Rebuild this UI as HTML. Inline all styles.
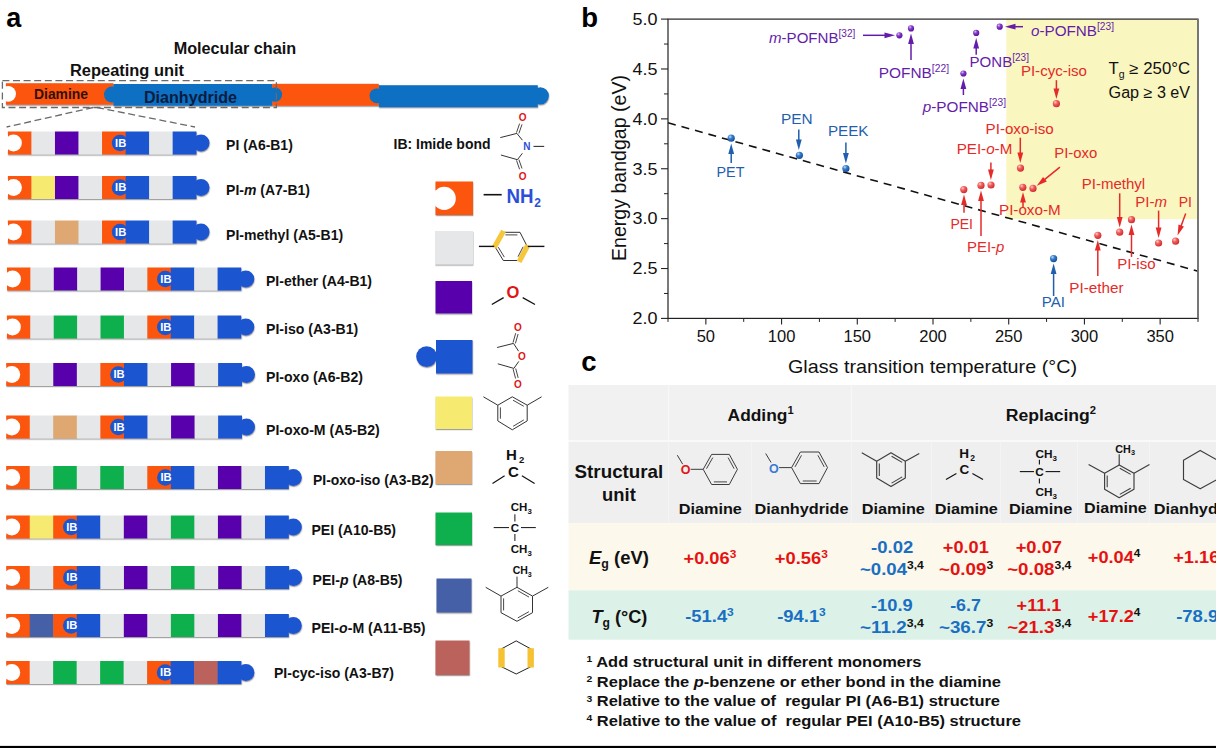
<!DOCTYPE html>
<html lang="en"><head><meta charset="utf-8"><title>Polyimide structural units figure</title>
<style>
html,body{margin:0;padding:0;background:#fff;}
body{width:1216px;height:748px;overflow:hidden;font-family:"Liberation Sans",sans-serif;}
svg{display:block;}
svg text{font-family:"Liberation Sans",sans-serif;}
</style></head><body>
<svg width="1216" height="748" viewBox="0 0 1216 748">
<defs>
<filter id="sh" x="-5%" y="-20%" width="110%" height="150%"><feDropShadow dx="0.4" dy="1.2" stdDeviation="0.7" flood-color="#555" flood-opacity="0.55"/></filter>
<radialGradient id="gr" cx="35%" cy="30%" r="70%"><stop offset="0" stop-color="#ffd0c8"/><stop offset="0.4" stop-color="#f06262"/><stop offset="1" stop-color="#d42a2a"/></radialGradient>
<radialGradient id="gb" cx="35%" cy="30%" r="70%"><stop offset="0" stop-color="#c4dcf6"/><stop offset="0.4" stop-color="#3a80cc"/><stop offset="1" stop-color="#0f50a0"/></radialGradient>
<radialGradient id="gp" cx="35%" cy="30%" r="70%"><stop offset="0" stop-color="#dcc4f6"/><stop offset="0.4" stop-color="#8840c8"/><stop offset="1" stop-color="#5a0fa0"/></radialGradient>
</defs>
<rect x="0" y="0" width="1216" height="748" fill="#fff"/>

<text x="6.3" y="26.8" font-size="27" font-weight="bold" fill="#000" text-anchor="start" font-style="normal" >a</text>
<text x="581.3" y="27" font-size="27.5" font-weight="bold" fill="#000" text-anchor="start" font-style="normal" >b</text>
<text x="581.3" y="371" font-size="27.5" font-weight="bold" fill="#000" text-anchor="start" font-style="normal" >c</text>
<text x="173.7" y="54.4" font-size="16" font-weight="bold" fill="#111" text-anchor="start" font-style="normal"  textLength="122.5" lengthAdjust="spacingAndGlyphs">Molecular chain</text>
<text x="70" y="76" font-size="16" font-weight="bold" fill="#111" text-anchor="start" font-style="normal"  textLength="114.0" lengthAdjust="spacingAndGlyphs">Repeating unit</text>
<g filter="url(#sh)">
<rect x="5.90" y="83.20" width="107.50" height="21.50" fill="#FC5509" />
<rect x="272.20" y="83.80" width="106.60" height="22.00" fill="#FC5509" />
<rect x="113.40" y="84.00" width="158.80" height="21.80" fill="#0B70C2" />
<circle cx="112.00" cy="94.60" r="8.00" fill="#0B70C2" />
<circle cx="274.90" cy="94.60" r="7.20" fill="#0B70C2" />
<rect x="378.80" y="85.20" width="159.00" height="22.00" fill="#0B70C2" />
<circle cx="376.90" cy="95.80" r="7.40" fill="#0B70C2" />
<circle cx="540.30" cy="95.80" r="8.60" fill="#0B70C2" />
</g>
<circle cx="8.10" cy="93.80" r="7.90" fill="#fff" />
<rect x="0.00" y="88.00" width="5.90" height="11.60" fill="#fff" />
<text x="34" y="99.4" font-size="14" font-weight="bold" fill="#33110a" text-anchor="start" font-style="normal"  textLength="54.0" lengthAdjust="spacingAndGlyphs">Diamine</text>
<text x="144" y="103" font-size="16" font-weight="bold" fill="#0a1c40" text-anchor="start" font-style="normal"  textLength="93.0" lengthAdjust="spacingAndGlyphs">Dianhydride</text>
<rect x="2.4" y="80.6" width="274" height="26.9" fill="none" stroke="#6a6a6a" stroke-width="1.3" stroke-dasharray="7,3.6"/>
<line x1="93.00" y1="107.50" x2="6.60" y2="127.00" stroke="#6a6a6a" stroke-width="1.3" stroke-dasharray="7,3.6"/>
<line x1="97.00" y1="107.50" x2="195.00" y2="127.00" stroke="#6a6a6a" stroke-width="1.3" stroke-dasharray="7,3.6"/>
<g filter="url(#sh)">
<rect x="7.90" y="131.50" width="23.84" height="23.00" fill="#FC5509" />
<rect x="31.44" y="131.50" width="23.84" height="23.00" fill="#E5E7E9" />
<rect x="54.97" y="131.50" width="23.84" height="23.00" fill="#5805AC" />
<rect x="78.51" y="131.50" width="23.84" height="23.00" fill="#E5E7E9" />
<rect x="102.05" y="131.50" width="23.84" height="23.00" fill="#FC5509" />
<rect x="125.59" y="131.50" width="23.84" height="23.00" fill="#1B55D0" />
<rect x="149.12" y="131.50" width="23.84" height="23.00" fill="#E5E7E9" />
<rect x="172.66" y="131.50" width="23.84" height="23.00" fill="#1B55D0" />
<circle cx="201.00" cy="143.00" r="8.50" fill="#1B55D0" />
</g>
<circle cx="13.50" cy="143.00" r="8.40" fill="#fff" />
<rect x="-2.10" y="134.70" width="10.00" height="16.60" fill="#fff" />
<circle cx="119.99" cy="143.00" r="8.20" fill="#1B55D0" />
<text x="115.08749999999998" y="146.7" font-size="10.4" font-weight="bold" fill="#fff" text-anchor="start" font-style="normal"  textLength="11.2" lengthAdjust="spacingAndGlyphs">IB</text>
<text x="226.1" y="150.1" font-size="14" font-weight="bold" fill="#111" text-anchor="start" font-style="normal"  textLength="66.7" lengthAdjust="spacingAndGlyphs">PI (A6-B1)</text>
<g filter="url(#sh)">
<rect x="7.90" y="176.00" width="23.84" height="23.00" fill="#FC5509" />
<rect x="31.44" y="176.00" width="23.84" height="23.00" fill="#F7EA70" />
<rect x="54.97" y="176.00" width="23.84" height="23.00" fill="#5805AC" />
<rect x="78.51" y="176.00" width="23.84" height="23.00" fill="#E5E7E9" />
<rect x="102.05" y="176.00" width="23.84" height="23.00" fill="#FC5509" />
<rect x="125.59" y="176.00" width="23.84" height="23.00" fill="#1B55D0" />
<rect x="149.12" y="176.00" width="23.84" height="23.00" fill="#E5E7E9" />
<rect x="172.66" y="176.00" width="23.84" height="23.00" fill="#1B55D0" />
<circle cx="201.00" cy="187.50" r="8.50" fill="#1B55D0" />
</g>
<circle cx="13.50" cy="187.50" r="8.40" fill="#fff" />
<rect x="-2.10" y="179.20" width="10.00" height="16.60" fill="#fff" />
<circle cx="119.99" cy="187.50" r="8.20" fill="#1B55D0" />
<text x="115.08749999999998" y="191.2" font-size="10.4" font-weight="bold" fill="#fff" text-anchor="start" font-style="normal"  textLength="11.2" lengthAdjust="spacingAndGlyphs">IB</text>
<text x="226.1" y="195.3" font-size="14" font-weight="bold" fill="#111" text-anchor="start" font-style="normal"  textLength="83.9" lengthAdjust="spacingAndGlyphs">PI-<tspan font-style="italic">m</tspan> (A7-B1)</text>
<g filter="url(#sh)">
<rect x="7.90" y="220.50" width="23.84" height="23.00" fill="#FC5509" />
<rect x="31.44" y="220.50" width="23.84" height="23.00" fill="#E5E7E9" />
<rect x="54.97" y="220.50" width="23.84" height="23.00" fill="#DFA872" />
<rect x="78.51" y="220.50" width="23.84" height="23.00" fill="#E5E7E9" />
<rect x="102.05" y="220.50" width="23.84" height="23.00" fill="#FC5509" />
<rect x="125.59" y="220.50" width="23.84" height="23.00" fill="#1B55D0" />
<rect x="149.12" y="220.50" width="23.84" height="23.00" fill="#E5E7E9" />
<rect x="172.66" y="220.50" width="23.84" height="23.00" fill="#1B55D0" />
<circle cx="201.00" cy="232.00" r="8.50" fill="#1B55D0" />
</g>
<circle cx="13.50" cy="232.00" r="8.40" fill="#fff" />
<rect x="-2.10" y="223.70" width="10.00" height="16.60" fill="#fff" />
<circle cx="119.99" cy="232.00" r="8.20" fill="#1B55D0" />
<text x="115.08749999999998" y="235.7" font-size="10.4" font-weight="bold" fill="#fff" text-anchor="start" font-style="normal"  textLength="11.2" lengthAdjust="spacingAndGlyphs">IB</text>
<text x="226.1" y="240" font-size="14" font-weight="bold" fill="#111" text-anchor="start" font-style="normal"  textLength="117.1" lengthAdjust="spacingAndGlyphs">PI-methyl (A5-B1)</text>
<g filter="url(#sh)">
<rect x="7.00" y="267.50" width="23.70" height="23.00" fill="#FC5509" />
<rect x="30.40" y="267.50" width="23.70" height="23.00" fill="#E5E7E9" />
<rect x="53.80" y="267.50" width="23.70" height="23.00" fill="#5805AC" />
<rect x="77.20" y="267.50" width="23.70" height="23.00" fill="#E5E7E9" />
<rect x="100.60" y="267.50" width="23.70" height="23.00" fill="#5805AC" />
<rect x="124.00" y="267.50" width="23.70" height="23.00" fill="#E5E7E9" />
<rect x="147.40" y="267.50" width="23.70" height="23.00" fill="#FC5509" />
<rect x="170.80" y="267.50" width="23.70" height="23.00" fill="#1B55D0" />
<rect x="194.20" y="267.50" width="23.70" height="23.00" fill="#E5E7E9" />
<rect x="217.60" y="267.50" width="23.70" height="23.00" fill="#1B55D0" />
<circle cx="245.80" cy="279.00" r="8.50" fill="#1B55D0" />
</g>
<circle cx="12.60" cy="279.00" r="8.40" fill="#fff" />
<rect x="-3.00" y="270.70" width="10.00" height="16.60" fill="#fff" />
<circle cx="165.20" cy="279.00" r="8.20" fill="#1B55D0" />
<text x="160.3" y="282.7" font-size="10.4" font-weight="bold" fill="#fff" text-anchor="start" font-style="normal"  textLength="11.2" lengthAdjust="spacingAndGlyphs">IB</text>
<text x="266" y="286" font-size="14" font-weight="bold" fill="#111" text-anchor="start" font-style="normal"  textLength="106.0" lengthAdjust="spacingAndGlyphs">PI-ether (A4-B1)</text>
<g filter="url(#sh)">
<rect x="6.90" y="315.50" width="23.71" height="23.00" fill="#FC5509" />
<rect x="30.31" y="315.50" width="23.71" height="23.00" fill="#E5E7E9" />
<rect x="53.72" y="315.50" width="23.71" height="23.00" fill="#10B04D" />
<rect x="77.13" y="315.50" width="23.71" height="23.00" fill="#E5E7E9" />
<rect x="100.54" y="315.50" width="23.71" height="23.00" fill="#10B04D" />
<rect x="123.95" y="315.50" width="23.71" height="23.00" fill="#E5E7E9" />
<rect x="147.36" y="315.50" width="23.71" height="23.00" fill="#FC5509" />
<rect x="170.77" y="315.50" width="23.71" height="23.00" fill="#1B55D0" />
<rect x="194.18" y="315.50" width="23.71" height="23.00" fill="#E5E7E9" />
<rect x="217.59" y="315.50" width="23.71" height="23.00" fill="#1B55D0" />
<circle cx="245.80" cy="327.00" r="8.50" fill="#1B55D0" />
</g>
<circle cx="12.50" cy="327.00" r="8.40" fill="#fff" />
<rect x="-3.10" y="318.70" width="10.00" height="16.60" fill="#fff" />
<circle cx="165.17" cy="327.00" r="8.20" fill="#1B55D0" />
<text x="160.26999999999998" y="330.7" font-size="10.4" font-weight="bold" fill="#fff" text-anchor="start" font-style="normal"  textLength="11.2" lengthAdjust="spacingAndGlyphs">IB</text>
<text x="266" y="334.2" font-size="14" font-weight="bold" fill="#111" text-anchor="start" font-style="normal"  textLength="92.3" lengthAdjust="spacingAndGlyphs">PI-iso (A3-B1)</text>
<g filter="url(#sh)">
<rect x="6.20" y="363.00" width="23.85" height="23.00" fill="#FC5509" />
<rect x="29.75" y="363.00" width="23.85" height="23.00" fill="#E5E7E9" />
<rect x="53.30" y="363.00" width="23.85" height="23.00" fill="#5805AC" />
<rect x="76.85" y="363.00" width="23.85" height="23.00" fill="#E5E7E9" />
<rect x="100.40" y="363.00" width="23.85" height="23.00" fill="#FC5509" />
<rect x="123.95" y="363.00" width="23.85" height="23.00" fill="#1B55D0" />
<rect x="147.50" y="363.00" width="23.85" height="23.00" fill="#E5E7E9" />
<rect x="171.05" y="363.00" width="23.85" height="23.00" fill="#5805AC" />
<rect x="194.60" y="363.00" width="23.85" height="23.00" fill="#E5E7E9" />
<rect x="218.15" y="363.00" width="23.85" height="23.00" fill="#1B55D0" />
<circle cx="246.50" cy="374.50" r="8.50" fill="#1B55D0" />
</g>
<circle cx="11.80" cy="374.50" r="8.40" fill="#fff" />
<rect x="-3.80" y="366.20" width="10.00" height="16.60" fill="#fff" />
<circle cx="118.35" cy="374.50" r="8.20" fill="#1B55D0" />
<text x="113.44999999999999" y="378.2" font-size="10.4" font-weight="bold" fill="#fff" text-anchor="start" font-style="normal"  textLength="11.2" lengthAdjust="spacingAndGlyphs">IB</text>
<text x="266" y="382.3" font-size="14" font-weight="bold" fill="#111" text-anchor="start" font-style="normal"  textLength="97.0" lengthAdjust="spacingAndGlyphs">PI-oxo (A6-B2)</text>
<g filter="url(#sh)">
<rect x="6.20" y="415.50" width="23.85" height="23.00" fill="#FC5509" />
<rect x="29.75" y="415.50" width="23.85" height="23.00" fill="#E5E7E9" />
<rect x="53.30" y="415.50" width="23.85" height="23.00" fill="#DFA872" />
<rect x="76.85" y="415.50" width="23.85" height="23.00" fill="#E5E7E9" />
<rect x="100.40" y="415.50" width="23.85" height="23.00" fill="#FC5509" />
<rect x="123.95" y="415.50" width="23.85" height="23.00" fill="#1B55D0" />
<rect x="147.50" y="415.50" width="23.85" height="23.00" fill="#E5E7E9" />
<rect x="171.05" y="415.50" width="23.85" height="23.00" fill="#5805AC" />
<rect x="194.60" y="415.50" width="23.85" height="23.00" fill="#E5E7E9" />
<rect x="218.15" y="415.50" width="23.85" height="23.00" fill="#1B55D0" />
<circle cx="246.50" cy="427.00" r="8.50" fill="#1B55D0" />
</g>
<circle cx="11.80" cy="427.00" r="8.40" fill="#fff" />
<rect x="-3.80" y="418.70" width="10.00" height="16.60" fill="#fff" />
<circle cx="118.35" cy="427.00" r="8.20" fill="#1B55D0" />
<text x="113.44999999999999" y="430.7" font-size="10.4" font-weight="bold" fill="#fff" text-anchor="start" font-style="normal"  textLength="11.2" lengthAdjust="spacingAndGlyphs">IB</text>
<text x="266" y="434.5" font-size="14" font-weight="bold" fill="#111" text-anchor="start" font-style="normal"  textLength="113.7" lengthAdjust="spacingAndGlyphs">PI-oxo-M (A5-B2)</text>
<g filter="url(#sh)">
<rect x="6.20" y="466.00" width="23.83" height="23.00" fill="#FC5509" />
<rect x="29.73" y="466.00" width="23.83" height="23.00" fill="#E5E7E9" />
<rect x="53.25" y="466.00" width="23.83" height="23.00" fill="#10B04D" />
<rect x="76.78" y="466.00" width="23.83" height="23.00" fill="#E5E7E9" />
<rect x="100.30" y="466.00" width="23.83" height="23.00" fill="#10B04D" />
<rect x="123.83" y="466.00" width="23.83" height="23.00" fill="#E5E7E9" />
<rect x="147.35" y="466.00" width="23.83" height="23.00" fill="#FC5509" />
<rect x="170.88" y="466.00" width="23.83" height="23.00" fill="#1B55D0" />
<rect x="194.40" y="466.00" width="23.83" height="23.00" fill="#E5E7E9" />
<rect x="217.93" y="466.00" width="23.83" height="23.00" fill="#5805AC" />
<rect x="241.45" y="466.00" width="23.83" height="23.00" fill="#E5E7E9" />
<rect x="264.98" y="466.00" width="23.83" height="23.00" fill="#1B55D0" />
<circle cx="293.30" cy="477.50" r="8.50" fill="#1B55D0" />
</g>
<circle cx="11.80" cy="477.50" r="8.40" fill="#fff" />
<rect x="-3.80" y="469.20" width="10.00" height="16.60" fill="#fff" />
<circle cx="165.28" cy="477.50" r="8.20" fill="#1B55D0" />
<text x="160.37500000000003" y="481.2" font-size="10.4" font-weight="bold" fill="#fff" text-anchor="start" font-style="normal"  textLength="11.2" lengthAdjust="spacingAndGlyphs">IB</text>
<text x="313" y="485.2" font-size="14" font-weight="bold" fill="#111" text-anchor="start" font-style="normal"  textLength="120.7" lengthAdjust="spacingAndGlyphs">PI-oxo-iso (A3-B2)</text>
<g filter="url(#sh)">
<rect x="6.20" y="515.50" width="23.83" height="23.00" fill="#FC5509" />
<rect x="29.73" y="515.50" width="23.83" height="23.00" fill="#F7EA70" />
<rect x="53.25" y="515.50" width="23.83" height="23.00" fill="#FC5509" />
<rect x="76.78" y="515.50" width="23.83" height="23.00" fill="#1B55D0" />
<rect x="100.30" y="515.50" width="23.83" height="23.00" fill="#E5E7E9" />
<rect x="123.83" y="515.50" width="23.83" height="23.00" fill="#5805AC" />
<rect x="147.35" y="515.50" width="23.83" height="23.00" fill="#E5E7E9" />
<rect x="170.88" y="515.50" width="23.83" height="23.00" fill="#10B04D" />
<rect x="194.40" y="515.50" width="23.83" height="23.00" fill="#E5E7E9" />
<rect x="217.93" y="515.50" width="23.83" height="23.00" fill="#5805AC" />
<rect x="241.45" y="515.50" width="23.83" height="23.00" fill="#E5E7E9" />
<rect x="264.98" y="515.50" width="23.83" height="23.00" fill="#1B55D0" />
<circle cx="293.30" cy="527.00" r="8.50" fill="#1B55D0" />
</g>
<circle cx="11.80" cy="527.00" r="8.40" fill="#fff" />
<rect x="-3.80" y="518.70" width="10.00" height="16.60" fill="#fff" />
<circle cx="71.18" cy="527.00" r="8.20" fill="#1B55D0" />
<text x="66.275" y="530.7" font-size="10.4" font-weight="bold" fill="#fff" text-anchor="start" font-style="normal"  textLength="11.2" lengthAdjust="spacingAndGlyphs">IB</text>
<text x="311.4" y="535" font-size="14" font-weight="bold" fill="#111" text-anchor="start" font-style="normal"  textLength="84.6" lengthAdjust="spacingAndGlyphs">PEI (A10-B5)</text>
<g filter="url(#sh)">
<rect x="6.20" y="566.00" width="23.85" height="23.00" fill="#FC5509" />
<rect x="29.75" y="566.00" width="23.85" height="23.00" fill="#E5E7E9" />
<rect x="53.30" y="566.00" width="23.85" height="23.00" fill="#FC5509" />
<rect x="76.85" y="566.00" width="23.85" height="23.00" fill="#1B55D0" />
<rect x="100.40" y="566.00" width="23.85" height="23.00" fill="#E5E7E9" />
<rect x="123.95" y="566.00" width="23.85" height="23.00" fill="#5805AC" />
<rect x="147.50" y="566.00" width="23.85" height="23.00" fill="#E5E7E9" />
<rect x="171.05" y="566.00" width="23.85" height="23.00" fill="#10B04D" />
<rect x="194.60" y="566.00" width="23.85" height="23.00" fill="#E5E7E9" />
<rect x="218.15" y="566.00" width="23.85" height="23.00" fill="#5805AC" />
<rect x="241.70" y="566.00" width="23.85" height="23.00" fill="#E5E7E9" />
<rect x="265.25" y="566.00" width="23.85" height="23.00" fill="#1B55D0" />
<circle cx="293.60" cy="577.50" r="8.50" fill="#1B55D0" />
</g>
<circle cx="11.80" cy="577.50" r="8.40" fill="#fff" />
<rect x="-3.80" y="569.20" width="10.00" height="16.60" fill="#fff" />
<circle cx="71.25" cy="577.50" r="8.20" fill="#1B55D0" />
<text x="66.35" y="581.2" font-size="10.4" font-weight="bold" fill="#fff" text-anchor="start" font-style="normal"  textLength="11.2" lengthAdjust="spacingAndGlyphs">IB</text>
<text x="312.6" y="585" font-size="14" font-weight="bold" fill="#111" text-anchor="start" font-style="normal"  textLength="89.8" lengthAdjust="spacingAndGlyphs">PEI-<tspan font-style="italic">p</tspan> (A8-B5)</text>
<g filter="url(#sh)">
<rect x="6.20" y="614.00" width="23.83" height="23.00" fill="#FC5509" />
<rect x="29.73" y="614.00" width="23.83" height="23.00" fill="#4461A6" />
<rect x="53.25" y="614.00" width="23.83" height="23.00" fill="#FC5509" />
<rect x="76.78" y="614.00" width="23.83" height="23.00" fill="#1B55D0" />
<rect x="100.30" y="614.00" width="23.83" height="23.00" fill="#E5E7E9" />
<rect x="123.83" y="614.00" width="23.83" height="23.00" fill="#5805AC" />
<rect x="147.35" y="614.00" width="23.83" height="23.00" fill="#E5E7E9" />
<rect x="170.88" y="614.00" width="23.83" height="23.00" fill="#10B04D" />
<rect x="194.40" y="614.00" width="23.83" height="23.00" fill="#E5E7E9" />
<rect x="217.93" y="614.00" width="23.83" height="23.00" fill="#5805AC" />
<rect x="241.45" y="614.00" width="23.83" height="23.00" fill="#E5E7E9" />
<rect x="264.98" y="614.00" width="23.83" height="23.00" fill="#1B55D0" />
<circle cx="293.30" cy="625.50" r="8.50" fill="#1B55D0" />
</g>
<circle cx="11.80" cy="625.50" r="8.40" fill="#fff" />
<rect x="-3.80" y="617.20" width="10.00" height="16.60" fill="#fff" />
<circle cx="71.18" cy="625.50" r="8.20" fill="#1B55D0" />
<text x="66.275" y="629.2" font-size="10.4" font-weight="bold" fill="#fff" text-anchor="start" font-style="normal"  textLength="11.2" lengthAdjust="spacingAndGlyphs">IB</text>
<text x="311.5" y="633.2" font-size="14" font-weight="bold" fill="#111" text-anchor="start" font-style="normal"  textLength="114.0" lengthAdjust="spacingAndGlyphs">PEI-<tspan font-style="italic">o</tspan>-M (A11-B5)</text>
<g filter="url(#sh)">
<rect x="6.20" y="661.00" width="23.79" height="23.00" fill="#FC5509" />
<rect x="29.69" y="661.00" width="23.79" height="23.00" fill="#E5E7E9" />
<rect x="53.18" y="661.00" width="23.79" height="23.00" fill="#10B04D" />
<rect x="76.67" y="661.00" width="23.79" height="23.00" fill="#E5E7E9" />
<rect x="100.16" y="661.00" width="23.79" height="23.00" fill="#10B04D" />
<rect x="123.65" y="661.00" width="23.79" height="23.00" fill="#E5E7E9" />
<rect x="147.14" y="661.00" width="23.79" height="23.00" fill="#FC5509" />
<rect x="170.63" y="661.00" width="23.79" height="23.00" fill="#1B55D0" />
<rect x="194.12" y="661.00" width="23.79" height="23.00" fill="#BB625B" />
<rect x="217.61" y="661.00" width="23.79" height="23.00" fill="#1B55D0" />
<circle cx="245.90" cy="672.50" r="8.50" fill="#1B55D0" />
</g>
<circle cx="11.80" cy="672.50" r="8.40" fill="#fff" />
<rect x="-3.80" y="664.20" width="10.00" height="16.60" fill="#fff" />
<circle cx="165.03" cy="672.50" r="8.20" fill="#1B55D0" />
<text x="160.13000000000005" y="676.2" font-size="10.4" font-weight="bold" fill="#fff" text-anchor="start" font-style="normal"  textLength="11.2" lengthAdjust="spacingAndGlyphs">IB</text>
<text x="274" y="678.2" font-size="14" font-weight="bold" fill="#111" text-anchor="start" font-style="normal"  textLength="120.0" lengthAdjust="spacingAndGlyphs">PI-cyc-iso (A3-B7)</text>
<g filter="url(#sh)">
<rect x="435.50" y="181.50" width="37.50" height="33.50" fill="#FC5509" />
<rect x="435.00" y="231.00" width="38.00" height="33.50" fill="#E5E7E9" />
<rect x="435.50" y="281.00" width="36.50" height="32.50" fill="#5805AC" />
<rect x="436.00" y="340.00" width="36.50" height="33.50" fill="#1B55D0" />
<circle cx="426.60" cy="356.60" r="10.40" fill="#1B55D0" />
<rect x="435.50" y="396.50" width="36.50" height="32.50" fill="#F7EA70" />
<rect x="435.50" y="451.00" width="36.50" height="33.00" fill="#DFA872" />
<rect x="435.50" y="512.50" width="36.50" height="32.50" fill="#10B04D" />
<rect x="436.50" y="578.50" width="35.00" height="34.00" fill="#4461A6" />
<rect x="435.50" y="640.50" width="34.00" height="34.50" fill="#BB625B" />
</g>
<circle cx="444.20" cy="198.40" r="11.60" fill="#fff" />
<rect x="425.00" y="190.00" width="10.40" height="16.80" fill="#fff" />
<text x="393.5" y="149" font-size="14" font-weight="bold" fill="#111" text-anchor="start" font-style="normal"  textLength="97.0" lengthAdjust="spacingAndGlyphs">IB: Imide bond</text>
<line x1="500.3" y1="137.6" x2="516.9" y2="133.4" stroke="#333" stroke-width="1.0" />
<line x1="516.9" y1="133.4" x2="522.4" y2="140.2" stroke="#333" stroke-width="1.0" />
<line x1="518.9" y1="133.4" x2="522.0" y2="124.4" stroke="#333" stroke-width="0.9" />
<line x1="516.5" y1="132.6" x2="519.6" y2="123.6" stroke="#333" stroke-width="0.9" />
<line x1="500.9" y1="155.0" x2="517.4" y2="159.7" stroke="#333" stroke-width="1.0" />
<line x1="517.4" y1="159.7" x2="522.4" y2="153.3" stroke="#333" stroke-width="1.0" />
<line x1="516.5" y1="160.4" x2="519.6" y2="169.3" stroke="#333" stroke-width="0.9" />
<line x1="518.9" y1="159.6" x2="522.0" y2="168.5" stroke="#333" stroke-width="0.9" />
<line x1="533.5" y1="146.4" x2="544.2" y2="146.4" stroke="#333" stroke-width="1.1" />
<text x="522.6" y="120.8" font-size="10" font-weight="bold" fill="#E01515" text-anchor="middle" font-style="normal">O</text>
<text x="522.6" y="179.8" font-size="10" font-weight="bold" fill="#E01515" text-anchor="middle" font-style="normal">O</text>
<text x="526.9" y="150.3" font-size="10" font-weight="bold" fill="#2E4FD6" text-anchor="middle" font-style="normal">N</text>
<line x1="483.6" y1="194.7" x2="501.7" y2="194.7" stroke="#111" stroke-width="1.6" />
<text x="506.5" y="202.7" font-size="19.5" font-weight="bold" fill="#2B4FD8" textLength="27" lengthAdjust="spacingAndGlyphs">NH</text>
<text x="537.6" y="206.5" font-size="12" font-weight="bold" fill="#2B4FD8" text-anchor="middle" font-style="normal">2</text>
<polygon points="494.8,246.4 502.9,232.3 520.0,232.3 527.2,246.4 519.8,260.5 503.3,260.5" fill="none" stroke="#333" stroke-width="1.0" stroke-linejoin="round"/>
<line x1="494.3" y1="247.6" x2="503.5" y2="230.9" stroke="#F6C63C" stroke-width="5.2" stroke-linecap="butt"/>
<line x1="527.8" y1="245.2" x2="519.1" y2="261.9" stroke="#F6C63C" stroke-width="5.2" stroke-linecap="butt"/>
<line x1="505.4" y1="234.9" x2="517.4" y2="234.9" stroke="#333" stroke-width="0.9" />
<line x1="504.3" y1="257.1" x2="498.3" y2="247.2" stroke="#333" stroke-width="0.9" />
<line x1="523.1" y1="246.8" x2="518.0" y2="256.7" stroke="#333" stroke-width="0.9" />
<line x1="478.9" y1="246.4" x2="494.2" y2="246.4" stroke="#111" stroke-width="1.4" />
<line x1="527.8" y1="246.4" x2="544.4" y2="246.4" stroke="#111" stroke-width="1.4" />
<text x="513.0" y="298.3" font-size="16.5" font-weight="bold" fill="#E01515" text-anchor="middle" font-style="normal">O</text>
<line x1="491.8" y1="304.5" x2="503.6" y2="297.6" stroke="#111" stroke-width="1.3" />
<line x1="522.7" y1="297.6" x2="535.0" y2="304.5" stroke="#111" stroke-width="1.3" />
<line x1="497.1" y1="347.5" x2="513.5" y2="343.4" stroke="#333" stroke-width="1.0" />
<line x1="513.5" y1="343.4" x2="518.6" y2="351.2" stroke="#333" stroke-width="1.0" />
<line x1="515.4" y1="343.4" x2="518.1" y2="334.0" stroke="#333" stroke-width="0.9" />
<line x1="513.0" y1="342.6" x2="515.7" y2="333.2" stroke="#333" stroke-width="0.9" />
<line x1="497.8" y1="363.8" x2="513.9" y2="368.4" stroke="#333" stroke-width="1.0" />
<line x1="513.9" y1="368.4" x2="518.8" y2="361.4" stroke="#333" stroke-width="1.0" />
<line x1="513.1" y1="369.1" x2="515.6" y2="378.5" stroke="#333" stroke-width="0.9" />
<line x1="515.7" y1="368.5" x2="518.2" y2="377.9" stroke="#333" stroke-width="0.9" />
<text x="517.8" y="331.0" font-size="10" font-weight="bold" fill="#E01515" text-anchor="middle" font-style="normal">O</text>
<text x="521.9" y="360.0" font-size="10" font-weight="bold" fill="#E01515" text-anchor="middle" font-style="normal">O</text>
<text x="517.8" y="387.9" font-size="10" font-weight="bold" fill="#E01515" text-anchor="middle" font-style="normal">O</text>
<polygon points="512.3,396.8 527.2,405.2 527.2,420.9 512.3,429.8 497.8,420.9 497.8,405.2" fill="none" stroke="#333" stroke-width="1.0" stroke-linejoin="round"/>
<line x1="513.0" y1="400.2" x2="523.8" y2="406.3" stroke="#333" stroke-width="0.9" />
<line x1="523.8" y1="419.9" x2="513.1" y2="426.3" stroke="#333" stroke-width="0.9" />
<line x1="500.4" y1="418.7" x2="500.4" y2="407.4" stroke="#333" stroke-width="0.9" />
<line x1="497.8" y1="405.2" x2="483.4" y2="396.8" stroke="#333" stroke-width="1.0" />
<line x1="527.2" y1="405.2" x2="541.6" y2="396.8" stroke="#333" stroke-width="1.0" />
<text x="511.5" y="460.0" font-size="15" font-weight="bold" fill="#111" text-anchor="middle" font-style="normal">H</text>
<text x="521.6" y="463.2" font-size="9.5" font-weight="bold" fill="#111" text-anchor="middle" font-style="normal">2</text>
<text x="513.5" y="476.8" font-size="15" font-weight="bold" fill="#111" text-anchor="middle" font-style="normal">C</text>
<line x1="492.5" y1="483.4" x2="504.6" y2="475.7" stroke="#111" stroke-width="1.2" />
<line x1="521.9" y1="475.7" x2="534.6" y2="483.4" stroke="#111" stroke-width="1.2" />
<text x="510.8" y="511.3" font-size="11.5" font-weight="bold" fill="#111">CH<tspan font-size="7.8" dy="2.9">3</tspan></text>
<text x="510.8" y="552.9" font-size="11.5" font-weight="bold" fill="#111">CH<tspan font-size="7.8" dy="2.9">3</tspan></text>
<text x="514.9" y="531.6" font-size="11.5" font-weight="bold" fill="#111" text-anchor="middle" font-style="normal">C</text>
<line x1="493.7" y1="527.6" x2="509.0" y2="527.6" stroke="#111" stroke-width="1.0" />
<line x1="521.0" y1="527.6" x2="535.8" y2="527.6" stroke="#111" stroke-width="1.0" />
<line x1="514.9" y1="514.3" x2="514.9" y2="521.5" stroke="#111" stroke-width="1.0" />
<line x1="514.9" y1="534.0" x2="514.9" y2="541.0" stroke="#111" stroke-width="1.0" />
<polygon points="517.0,587.3 532.5,596.1 532.5,612.7 517.0,621.3 501.0,612.7 501.0,596.1" fill="none" stroke="#333" stroke-width="1.0" stroke-linejoin="round"/>
<line x1="517.8" y1="590.7" x2="529.0" y2="597.1" stroke="#333" stroke-width="0.9" />
<line x1="528.9" y1="611.7" x2="517.8" y2="617.9" stroke="#333" stroke-width="0.9" />
<line x1="503.6" y1="610.4" x2="503.6" y2="598.4" stroke="#333" stroke-width="0.9" />
<line x1="501.0" y1="596.1" x2="485.7" y2="587.3" stroke="#333" stroke-width="1.0" />
<line x1="532.5" y1="596.1" x2="548.3" y2="587.3" stroke="#333" stroke-width="1.0" />
<line x1="517.0" y1="587.3" x2="517.0" y2="576.6" stroke="#333" stroke-width="1.0" />
<text x="512.7" y="574.0" font-size="10.5" font-weight="bold" fill="#111">CH<tspan font-size="7.1" dy="2.6">3</tspan></text>
<polygon points="516.2,640.9 530.6,648.8 530.6,666.8 516.2,674.0 501.6,666.8 501.6,648.8" fill="none" stroke="#222" stroke-width="1.0" stroke-linejoin="round"/>
<line x1="501.5" y1="648.2" x2="501.5" y2="667.5" stroke="#F6C231" stroke-width="6.4" />
<line x1="530.7" y1="648.2" x2="530.7" y2="667.5" stroke="#F6C231" stroke-width="6.4" />
<rect x="1006.30" y="19.10" width="191.70" height="200.04" fill="#FAF6C0" />
<line x1="668.00" y1="122.80" x2="1198.00" y2="271.20" stroke="#111" stroke-width="1.6" stroke-dasharray="8,6"/>
<rect x="668" y="19.1" width="530" height="299.29999999999995" fill="none" stroke="#222" stroke-width="1.2"/>
<line x1="1198.00" y1="19.10" x2="1198.00" y2="318.40" stroke="#777" stroke-width="1.7" />
<line x1="661.00" y1="19.10" x2="668.00" y2="19.10" stroke="#222" stroke-width="1.1" />
<text x="632.4" y="24.900000000000002" font-size="16.5" font-weight="normal" fill="#111" text-anchor="start" font-style="normal"  textLength="25.0" lengthAdjust="spacingAndGlyphs">5.0</text>
<line x1="661.00" y1="68.98" x2="668.00" y2="68.98" stroke="#222" stroke-width="1.1" />
<text x="632.4" y="74.785" font-size="16.5" font-weight="normal" fill="#111" text-anchor="start" font-style="normal"  textLength="25.0" lengthAdjust="spacingAndGlyphs">4.5</text>
<line x1="661.00" y1="118.87" x2="668.00" y2="118.87" stroke="#222" stroke-width="1.1" />
<text x="632.4" y="124.67" font-size="16.5" font-weight="normal" fill="#111" text-anchor="start" font-style="normal"  textLength="25.0" lengthAdjust="spacingAndGlyphs">4.0</text>
<line x1="661.00" y1="168.75" x2="668.00" y2="168.75" stroke="#222" stroke-width="1.1" />
<text x="632.4" y="174.555" font-size="16.5" font-weight="normal" fill="#111" text-anchor="start" font-style="normal"  textLength="25.0" lengthAdjust="spacingAndGlyphs">3.5</text>
<line x1="661.00" y1="218.64" x2="668.00" y2="218.64" stroke="#222" stroke-width="1.1" />
<text x="632.4" y="224.44" font-size="16.5" font-weight="normal" fill="#111" text-anchor="start" font-style="normal"  textLength="25.0" lengthAdjust="spacingAndGlyphs">3.0</text>
<line x1="661.00" y1="268.52" x2="668.00" y2="268.52" stroke="#222" stroke-width="1.1" />
<text x="632.4" y="274.325" font-size="16.5" font-weight="normal" fill="#111" text-anchor="start" font-style="normal"  textLength="25.0" lengthAdjust="spacingAndGlyphs">2.5</text>
<line x1="661.00" y1="318.41" x2="668.00" y2="318.41" stroke="#222" stroke-width="1.1" />
<text x="632.4" y="324.21000000000004" font-size="16.5" font-weight="normal" fill="#111" text-anchor="start" font-style="normal"  textLength="25.0" lengthAdjust="spacingAndGlyphs">2.0</text>
<line x1="664.00" y1="44.04" x2="668.00" y2="44.04" stroke="#222" stroke-width="1" />
<line x1="664.00" y1="93.93" x2="668.00" y2="93.93" stroke="#222" stroke-width="1" />
<line x1="664.00" y1="143.81" x2="668.00" y2="143.81" stroke="#222" stroke-width="1" />
<line x1="664.00" y1="193.70" x2="668.00" y2="193.70" stroke="#222" stroke-width="1" />
<line x1="664.00" y1="243.58" x2="668.00" y2="243.58" stroke="#222" stroke-width="1" />
<line x1="664.00" y1="293.47" x2="668.00" y2="293.47" stroke="#222" stroke-width="1" />
<line x1="705.86" y1="318.40" x2="705.86" y2="324.40" stroke="#222" stroke-width="1.1" />
<text x="705.8571428571429" y="342.2" font-size="16.5" font-weight="normal" fill="#111" text-anchor="middle" font-style="normal" >50</text>
<line x1="781.57" y1="318.40" x2="781.57" y2="324.40" stroke="#222" stroke-width="1.1" />
<text x="781.5714285714286" y="342.2" font-size="16.5" font-weight="normal" fill="#111" text-anchor="middle" font-style="normal" >100</text>
<line x1="857.29" y1="318.40" x2="857.29" y2="324.40" stroke="#222" stroke-width="1.1" />
<text x="857.2857142857142" y="342.2" font-size="16.5" font-weight="normal" fill="#111" text-anchor="middle" font-style="normal" >150</text>
<line x1="933.00" y1="318.40" x2="933.00" y2="324.40" stroke="#222" stroke-width="1.1" />
<text x="933.0" y="342.2" font-size="16.5" font-weight="normal" fill="#111" text-anchor="middle" font-style="normal" >200</text>
<line x1="1008.71" y1="318.40" x2="1008.71" y2="324.40" stroke="#222" stroke-width="1.1" />
<text x="1008.7142857142858" y="342.2" font-size="16.5" font-weight="normal" fill="#111" text-anchor="middle" font-style="normal" >250</text>
<line x1="1084.43" y1="318.40" x2="1084.43" y2="324.40" stroke="#222" stroke-width="1.1" />
<text x="1084.4285714285716" y="342.2" font-size="16.5" font-weight="normal" fill="#111" text-anchor="middle" font-style="normal" >300</text>
<line x1="1160.14" y1="318.40" x2="1160.14" y2="324.40" stroke="#222" stroke-width="1.1" />
<text x="1160.142857142857" y="342.2" font-size="16.5" font-weight="normal" fill="#111" text-anchor="middle" font-style="normal" >350</text>
<line x1="668.00" y1="318.40" x2="668.00" y2="321.90" stroke="#222" stroke-width="1" />
<line x1="743.71" y1="318.40" x2="743.71" y2="321.90" stroke="#222" stroke-width="1" />
<line x1="819.43" y1="318.40" x2="819.43" y2="321.90" stroke="#222" stroke-width="1" />
<line x1="895.14" y1="318.40" x2="895.14" y2="321.90" stroke="#222" stroke-width="1" />
<line x1="970.86" y1="318.40" x2="970.86" y2="321.90" stroke="#222" stroke-width="1" />
<line x1="1046.57" y1="318.40" x2="1046.57" y2="321.90" stroke="#222" stroke-width="1" />
<line x1="1122.29" y1="318.40" x2="1122.29" y2="321.90" stroke="#222" stroke-width="1" />
<line x1="1198.00" y1="318.40" x2="1198.00" y2="321.90" stroke="#222" stroke-width="1" />
<text x="788" y="372.5" font-size="19" font-weight="normal" fill="#111" text-anchor="start" font-style="normal"  textLength="289.0" lengthAdjust="spacingAndGlyphs">Glass transition temperature (°C)</text>
<text transform="translate(626,261) rotate(-90)" font-size="19.5" fill="#111" text-anchor="start" textLength="186" lengthAdjust="spacingAndGlyphs">Energy bandgap (eV)</text>
<circle cx="731.2" cy="138.2" r="3.6" fill="url(#gb)"/>
<circle cx="799.4" cy="155.3" r="3.6" fill="url(#gb)"/>
<circle cx="845.9" cy="168.5" r="3.6" fill="url(#gb)"/>
<circle cx="1053.6" cy="258.6" r="3.6" fill="url(#gb)"/>
<text x="716.5" y="176.5" font-size="15" fill="#1F5FAE" textLength="27.9" lengthAdjust="spacingAndGlyphs">PET</text>
<line x1="731.2" y1="163.0" x2="731.2" y2="153.0" stroke="#1F5FAE" stroke-width="1.5" />
<polygon points="731.2,143.5 734.1,154.0 728.3,154.0" fill="#1F5FAE"/>
<text x="781.0" y="123.5" font-size="15" fill="#1F5FAE" textLength="31.6" lengthAdjust="spacingAndGlyphs">PEN</text>
<line x1="798.8" y1="129.4" x2="798.8" y2="140.5" stroke="#1F5FAE" stroke-width="1.5" />
<polygon points="798.8,150.0 795.9,139.5 801.7,139.5" fill="#1F5FAE"/>
<text x="828.0" y="136.0" font-size="15" fill="#1F5FAE" textLength="40.5" lengthAdjust="spacingAndGlyphs">PEEK</text>
<line x1="845.9" y1="142.6" x2="845.9" y2="154.0" stroke="#1F5FAE" stroke-width="1.5" />
<polygon points="845.9,163.5 843.0,153.0 848.8,153.0" fill="#1F5FAE"/>
<text x="1041.8" y="307.3" font-size="15" fill="#1F5FAE" textLength="23.2" lengthAdjust="spacingAndGlyphs">PAI</text>
<line x1="1053.6" y1="296.0" x2="1053.6" y2="273.0" stroke="#1F5FAE" stroke-width="1.5" />
<polygon points="1053.6,263.5 1056.5,274.0 1050.7,274.0" fill="#1F5FAE"/>
<circle cx="899.4" cy="35.3" r="3.1" fill="url(#gp)"/>
<circle cx="911.0" cy="28.4" r="3.1" fill="url(#gp)"/>
<circle cx="963.4" cy="73.5" r="3.1" fill="url(#gp)"/>
<circle cx="976.2" cy="32.9" r="3.1" fill="url(#gp)"/>
<circle cx="999.7" cy="26.7" r="3.1" fill="url(#gp)"/>
<text x="769.0" y="42.6" font-size="15" fill="#651CAA" textLength="86.3" lengthAdjust="spacingAndGlyphs"><tspan font-style="italic">m</tspan>-POFNB<tspan font-size="10" dy="-6">[32]</tspan></text>
<line x1="863.0" y1="35.3" x2="885.5" y2="35.3" stroke="#651CAA" stroke-width="1.5" />
<polygon points="895.0,35.3 884.5,38.2 884.5,32.4" fill="#651CAA"/>
<text x="878.8" y="77.5" font-size="15" fill="#651CAA" textLength="70.2" lengthAdjust="spacingAndGlyphs">POFNB<tspan font-size="10" dy="-6">[22]</tspan></text>
<line x1="911.0" y1="60.0" x2="911.0" y2="43.0" stroke="#651CAA" stroke-width="1.5" />
<polygon points="911.0,33.5 913.9,44.0 908.1,44.0" fill="#651CAA"/>
<text x="969.5" y="66.8" font-size="15" fill="#651CAA" textLength="59.5" lengthAdjust="spacingAndGlyphs">PONB<tspan font-size="10" dy="-6">[23]</tspan></text>
<line x1="976.2" y1="54.8" x2="976.2" y2="47.5" stroke="#651CAA" stroke-width="1.5" />
<polygon points="976.2,38.0 979.1,48.5 973.3,48.5" fill="#651CAA"/>
<text x="1031.0" y="35.6" font-size="15" fill="#651CAA" textLength="83.0" lengthAdjust="spacingAndGlyphs"><tspan font-style="italic">o</tspan>-POFNB<tspan font-size="10" dy="-6">[23]</tspan></text>
<line x1="1023.0" y1="26.7" x2="1014.5" y2="26.7" stroke="#651CAA" stroke-width="1.5" />
<polygon points="1005.0,26.7 1015.5,23.8 1015.5,29.6" fill="#651CAA"/>
<text x="922.7" y="112.3" font-size="15" fill="#651CAA" textLength="83.3" lengthAdjust="spacingAndGlyphs"><tspan font-style="italic">p</tspan>-POFNB<tspan font-size="10" dy="-6">[23]</tspan></text>
<line x1="963.4" y1="95.0" x2="963.4" y2="88.0" stroke="#651CAA" stroke-width="1.5" />
<polygon points="963.4,78.5 966.3,89.0 960.5,89.0" fill="#651CAA"/>
<circle cx="1056.4" cy="103.7" r="3.6" fill="url(#gr)"/>
<circle cx="1020.5" cy="168.1" r="3.6" fill="url(#gr)"/>
<circle cx="991.0" cy="185.0" r="3.6" fill="url(#gr)"/>
<circle cx="981.0" cy="185.4" r="3.6" fill="url(#gr)"/>
<circle cx="963.8" cy="189.6" r="3.6" fill="url(#gr)"/>
<circle cx="1022.8" cy="187.3" r="3.6" fill="url(#gr)"/>
<circle cx="1033.0" cy="188.4" r="3.6" fill="url(#gr)"/>
<circle cx="1097.8" cy="235.3" r="3.6" fill="url(#gr)"/>
<circle cx="1119.7" cy="232.2" r="3.6" fill="url(#gr)"/>
<circle cx="1131.5" cy="219.7" r="3.6" fill="url(#gr)"/>
<circle cx="1158.6" cy="243.0" r="3.6" fill="url(#gr)"/>
<circle cx="1175.6" cy="241.2" r="3.6" fill="url(#gr)"/>
<text x="1020.9" y="76.2" font-size="15" fill="#E52A28" textLength="66.1" lengthAdjust="spacingAndGlyphs">PI-cyc-iso</text>
<line x1="1056.4" y1="80.2" x2="1056.4" y2="89.5" stroke="#E52A28" stroke-width="1.5" />
<polygon points="1056.4,99.0 1053.5,88.5 1059.3,88.5" fill="#E52A28"/>
<text x="985.6" y="133.7" font-size="15" fill="#E52A28" textLength="68.1" lengthAdjust="spacingAndGlyphs">PI-oxo-iso</text>
<line x1="1020.3" y1="137.7" x2="1020.3" y2="153.5" stroke="#E52A28" stroke-width="1.5" />
<polygon points="1020.3,163.0 1017.4,152.5 1023.2,152.5" fill="#E52A28"/>
<text x="956.7" y="153.7" font-size="15" fill="#E52A28" textLength="55.6" lengthAdjust="spacingAndGlyphs">PEI-<tspan font-style="italic">o</tspan>-M</text>
<line x1="990.9" y1="162.6" x2="990.9" y2="170.5" stroke="#E52A28" stroke-width="1.5" />
<polygon points="990.9,180.0 988.0,169.5 993.8,169.5" fill="#E52A28"/>
<text x="1054.3" y="158.3" font-size="15" fill="#E52A28" textLength="43.0" lengthAdjust="spacingAndGlyphs">PI-oxo</text>
<line x1="1059.9" y1="167.1" x2="1044.2" y2="179.8" stroke="#E52A28" stroke-width="1.5" />
<polygon points="1036.8,185.8 1043.1,176.9 1046.8,181.4" fill="#E52A28"/>
<text x="1081.8" y="189.0" font-size="15" fill="#E52A28" textLength="63.4" lengthAdjust="spacingAndGlyphs">PI-methyl</text>
<line x1="1119.7" y1="193.3" x2="1119.7" y2="218.0" stroke="#E52A28" stroke-width="1.5" />
<polygon points="1119.7,227.5 1116.8,217.0 1122.6,217.0" fill="#E52A28"/>
<text x="1135.3" y="207.2" font-size="15" fill="#E52A28" textLength="31.7" lengthAdjust="spacingAndGlyphs">PI-<tspan font-style="italic">m</tspan></text>
<line x1="1158.6" y1="210.6" x2="1158.6" y2="228.5" stroke="#E52A28" stroke-width="1.5" />
<polygon points="1158.6,238.0 1155.7,227.5 1161.5,227.5" fill="#E52A28"/>
<text x="1178.8" y="207.2" font-size="15" fill="#E52A28" textLength="13.2" lengthAdjust="spacingAndGlyphs">PI</text>
<line x1="1185.7" y1="213.4" x2="1180.9" y2="226.6" stroke="#E52A28" stroke-width="1.5" />
<polygon points="1177.6,235.5 1178.5,224.6 1183.9,226.6" fill="#E52A28"/>
<text x="999.0" y="215.2" font-size="15" fill="#E52A28" textLength="61.6" lengthAdjust="spacingAndGlyphs">PI-oxo-M</text>
<line x1="1023.0" y1="207.2" x2="1023.0" y2="201.5" stroke="#E52A28" stroke-width="1.5" />
<polygon points="1023.0,192.0 1025.9,202.5 1020.1,202.5" fill="#E52A28"/>
<text x="950.4" y="229.0" font-size="15" fill="#E52A28" textLength="22.6" lengthAdjust="spacingAndGlyphs">PEI</text>
<line x1="964.0" y1="212.7" x2="964.0" y2="204.0" stroke="#E52A28" stroke-width="1.5" />
<polygon points="964.0,194.5 966.9,205.0 961.1,205.0" fill="#E52A28"/>
<text x="967.0" y="252.3" font-size="15" fill="#E52A28" textLength="37.3" lengthAdjust="spacingAndGlyphs">PEI-<tspan font-style="italic">p</tspan></text>
<line x1="981.0" y1="236.0" x2="981.0" y2="200.0" stroke="#E52A28" stroke-width="1.5" />
<polygon points="981.0,190.5 983.9,201.0 978.1,201.0" fill="#E52A28"/>
<text x="1117.2" y="269.0" font-size="15" fill="#E52A28" textLength="38.3" lengthAdjust="spacingAndGlyphs">PI-iso</text>
<line x1="1131.5" y1="256.9" x2="1131.5" y2="234.0" stroke="#E52A28" stroke-width="1.5" />
<polygon points="1131.5,224.5 1134.4,235.0 1128.6,235.0" fill="#E52A28"/>
<text x="1069.3" y="292.7" font-size="15" fill="#E52A28" textLength="54.2" lengthAdjust="spacingAndGlyphs">PI-ether</text>
<line x1="1097.8" y1="276.0" x2="1097.8" y2="249.5" stroke="#E52A28" stroke-width="1.5" />
<polygon points="1097.8,240.0 1100.7,250.5 1094.9,250.5" fill="#E52A28"/>
<text x="1108.6" y="73.5" font-size="16" fill="#111" textLength="81.5" lengthAdjust="spacingAndGlyphs">T<tspan font-size="10" dy="4">g</tspan><tspan dy="-4"> ≥ 250°C</tspan></text>
<text x="1108.6" y="97.6" font-size="16" fill="#111" textLength="81.5" lengthAdjust="spacingAndGlyphs">Gap ≥ 3 eV</text>
<rect x="568.50" y="385.00" width="660.00" height="55.40" fill="#F1F1F1" />
<line x1="668.50" y1="385.00" x2="668.50" y2="440.00" stroke="#F7F7F7" stroke-width="1.2" />
<line x1="851.50" y1="385.00" x2="851.50" y2="440.00" stroke="#F7F7F7" stroke-width="1.2" />
<rect x="568.50" y="441.60" width="660.00" height="81.40" fill="#EFEFEF" />
<line x1="668.50" y1="441.60" x2="668.50" y2="523.00" stroke="#F4F4F4" stroke-width="1.2" />
<line x1="751.50" y1="441.60" x2="751.50" y2="523.00" stroke="#F4F4F4" stroke-width="1.2" />
<line x1="851.50" y1="441.60" x2="851.50" y2="523.00" stroke="#F4F4F4" stroke-width="1.2" />
<line x1="931.50" y1="441.60" x2="931.50" y2="523.00" stroke="#F4F4F4" stroke-width="1.2" />
<line x1="1000.50" y1="441.60" x2="1000.50" y2="523.00" stroke="#F4F4F4" stroke-width="1.2" />
<line x1="1077.50" y1="441.60" x2="1077.50" y2="523.00" stroke="#F4F4F4" stroke-width="1.2" />
<line x1="1149.50" y1="441.60" x2="1149.50" y2="523.00" stroke="#F4F4F4" stroke-width="1.2" />
<rect x="568.50" y="523.00" width="660.00" height="67.60" fill="#FCF8EB" />
<rect x="568.50" y="590.40" width="660.00" height="49.30" fill="#DCF2E8" />
<text x="727.6" y="420.5" font-size="17.2" font-weight="bold" fill="#111" textLength="66.0" lengthAdjust="spacingAndGlyphs" >Adding<tspan font-size="11" dy="-7">1</tspan></text>
<text x="1005.8" y="420.5" font-size="17.2" font-weight="bold" fill="#111" textLength="90.3" lengthAdjust="spacingAndGlyphs" >Replacing<tspan font-size="11" dy="-7">2</tspan></text>
<text x="574.6" y="478.1" font-size="17.9" font-weight="bold" fill="#111" textLength="88.7" lengthAdjust="spacingAndGlyphs" >Structural</text>
<text x="602.1" y="500.5" font-size="17.9" font-weight="bold" fill="#111" textLength="33.7" lengthAdjust="spacingAndGlyphs" >unit</text>
<text x="678.8" y="514.0" font-size="15.4" font-weight="bold" fill="#111" textLength="63.1" lengthAdjust="spacingAndGlyphs" >Diamine</text>
<text x="754.6" y="514.0" font-size="15.4" font-weight="bold" fill="#111" textLength="94.0" lengthAdjust="spacingAndGlyphs" >Dianhydride</text>
<text x="861.8" y="514.0" font-size="15.4" font-weight="bold" fill="#111" textLength="63.1" lengthAdjust="spacingAndGlyphs" >Diamine</text>
<text x="934.7" y="514.0" font-size="15.4" font-weight="bold" fill="#111" textLength="63.2" lengthAdjust="spacingAndGlyphs" >Diamine</text>
<text x="1009.1" y="514.0" font-size="15.4" font-weight="bold" fill="#111" textLength="63.2" lengthAdjust="spacingAndGlyphs" >Diamine</text>
<text x="1084.1" y="512.6" font-size="15.4" font-weight="bold" fill="#111" textLength="62.6" lengthAdjust="spacingAndGlyphs" >Diamine</text>
<text x="1153.7" y="514.0" font-size="15.4" font-weight="bold" fill="#111" textLength="94.0" lengthAdjust="spacingAndGlyphs" >Dianhydride</text>
<text x="589.0" y="564.0" font-size="18" font-weight="bold" fill="#111" textLength="60.0" lengthAdjust="spacingAndGlyphs" ><tspan font-style="italic">E</tspan><tspan font-size="12" dy="4">g</tspan><tspan dy="-4"> (eV)</tspan></text>
<text x="591.4" y="623.2" font-size="18" font-weight="bold" fill="#111" textLength="56.0" lengthAdjust="spacingAndGlyphs" ><tspan font-style="italic">T</tspan><tspan font-size="12" dy="4">g</tspan><tspan dy="-4"> (°C)</tspan></text>
<text x="683.5" y="564.0" font-size="16.9" font-weight="bold" fill="#E61212" textLength="52.8" lengthAdjust="spacingAndGlyphs" >+0.06<tspan font-size="11" dy="-6" fill="#E61212">3</tspan></text>
<text x="774.8" y="564.0" font-size="16.9" font-weight="bold" fill="#E61212" textLength="53.0" lengthAdjust="spacingAndGlyphs" >+0.56<tspan font-size="11" dy="-6" fill="#E61212">3</tspan></text>
<text x="871.1" y="552.8" font-size="16.9" font-weight="bold" fill="#1A6FC2" textLength="42.2" lengthAdjust="spacingAndGlyphs" >-0.02</text>
<text x="860.0" y="575.4" font-size="16.9" font-weight="bold" fill="#1A6FC2" textLength="63.8" lengthAdjust="spacingAndGlyphs" >~0.04<tspan font-size="11" dy="-6" fill="#111">3,4</tspan></text>
<text x="942.8" y="552.8" font-size="16.9" font-weight="bold" fill="#E61212" textLength="46.0" lengthAdjust="spacingAndGlyphs" >+0.01</text>
<text x="939.0" y="575.4" font-size="16.9" font-weight="bold" fill="#E61212" textLength="54.2" lengthAdjust="spacingAndGlyphs" >~0.09<tspan font-size="11" dy="-6" fill="#111">3</tspan></text>
<text x="1015.7" y="552.8" font-size="16.9" font-weight="bold" fill="#E61212" textLength="46.3" lengthAdjust="spacingAndGlyphs" >+0.07</text>
<text x="1007.2" y="575.4" font-size="16.9" font-weight="bold" fill="#E61212" textLength="64.2" lengthAdjust="spacingAndGlyphs" >~0.08<tspan font-size="11" dy="-6" fill="#111">3,4</tspan></text>
<text x="1087.8" y="563.0" font-size="16.9" font-weight="bold" fill="#E61212" textLength="52.6" lengthAdjust="spacingAndGlyphs" >+0.04<tspan font-size="11" dy="-6" fill="#111">4</tspan></text>
<text x="1173.2" y="563.0" font-size="16.9" font-weight="bold" fill="#E61212" textLength="52.8" lengthAdjust="spacingAndGlyphs" >+1.16<tspan font-size="11" dy="-6" fill="#111">3</tspan></text>
<text x="685.2" y="621.7" font-size="16.9" font-weight="bold" fill="#1A6FC2" textLength="48.6" lengthAdjust="spacingAndGlyphs" >-51.4<tspan font-size="11" dy="-6" fill="#1A6FC2">3</tspan></text>
<text x="777.2" y="621.7" font-size="16.9" font-weight="bold" fill="#1A6FC2" textLength="48.6" lengthAdjust="spacingAndGlyphs" >-94.1<tspan font-size="11" dy="-6" fill="#1A6FC2">3</tspan></text>
<text x="871.0" y="611.4" font-size="16.9" font-weight="bold" fill="#1A6FC2" textLength="41.7" lengthAdjust="spacingAndGlyphs" >-10.9</text>
<text x="860.0" y="633.3" font-size="16.9" font-weight="bold" fill="#1A6FC2" textLength="63.8" lengthAdjust="spacingAndGlyphs" >~11.2<tspan font-size="11" dy="-6" fill="#111">3,4</tspan></text>
<text x="950.2" y="611.4" font-size="16.9" font-weight="bold" fill="#1A6FC2" textLength="30.7" lengthAdjust="spacingAndGlyphs" >-6.7</text>
<text x="939.0" y="633.3" font-size="16.9" font-weight="bold" fill="#1A6FC2" textLength="54.2" lengthAdjust="spacingAndGlyphs" >~36.7<tspan font-size="11" dy="-6" fill="#111">3</tspan></text>
<text x="1016.6" y="611.4" font-size="16.9" font-weight="bold" fill="#E61212" textLength="44.8" lengthAdjust="spacingAndGlyphs" >+11.1</text>
<text x="1007.2" y="633.3" font-size="16.9" font-weight="bold" fill="#E61212" textLength="64.2" lengthAdjust="spacingAndGlyphs" >~21.3<tspan font-size="11" dy="-6" fill="#111">3,4</tspan></text>
<text x="1087.8" y="621.6" font-size="16.9" font-weight="bold" fill="#E61212" textLength="52.6" lengthAdjust="spacingAndGlyphs" >+17.2<tspan font-size="11" dy="-6" fill="#111">4</tspan></text>
<text x="1176.2" y="621.6" font-size="16.9" font-weight="bold" fill="#1A6FC2" textLength="48.8" lengthAdjust="spacingAndGlyphs" >-78.9<tspan font-size="11" dy="-6" fill="#111">3</tspan></text>
<text x="586.5" y="666.7" font-size="14.6" font-weight="bold" fill="#111" textLength="335.0" lengthAdjust="spacingAndGlyphs" ><tspan font-size="9.2" dy="-4.6">1</tspan><tspan dy="4.6"> </tspan>Add structural unit in different monomers</text>
<text x="586.5" y="686.5" font-size="14.6" font-weight="bold" fill="#111" textLength="414.5" lengthAdjust="spacingAndGlyphs" ><tspan font-size="9.2" dy="-4.6">2</tspan><tspan dy="4.6"> </tspan>Replace the <tspan font-style="italic">p</tspan>-benzene or ether bond in the diamine</text>
<text x="586.5" y="706.2" font-size="14.6" font-weight="bold" fill="#111" textLength="413.5" lengthAdjust="spacingAndGlyphs" xml:space="preserve"><tspan font-size="9.2" dy="-4.6">3</tspan><tspan dy="4.6"> </tspan>Relative to the value of  regular PI (A6-B1) structure</text>
<text x="586.5" y="725.9" font-size="14.6" font-weight="bold" fill="#111" textLength="434.5" lengthAdjust="spacingAndGlyphs" xml:space="preserve"><tspan font-size="9.2" dy="-4.6">4</tspan><tspan dy="4.6"> </tspan>Relative to the value of  regular PEI (A10-B5) structure</text>
<text x="685.5" y="474.3" font-size="12.5" font-weight="bold" fill="#E01515" text-anchor="middle" font-style="normal">O</text>
<line x1="677.3" y1="455.2" x2="682.7" y2="464.2" stroke="#3c3c3c" stroke-width="1.0" />
<line x1="690.7" y1="469.3" x2="703.2" y2="469.3" stroke="#3c3c3c" stroke-width="1.0" />
<polygon points="703.2,469.3 711.6,454.4 729.3,454.4 737.4,469.3 729.3,484.5 711.6,484.5" fill="none" stroke="#3c3c3c" stroke-width="1.0" stroke-linejoin="round"/>
<line x1="706.5" y1="468.7" x2="712.8" y2="457.6" stroke="#3c3c3c" stroke-width="0.95" />
<line x1="728.1" y1="457.6" x2="734.1" y2="468.7" stroke="#3c3c3c" stroke-width="0.95" />
<line x1="727.0" y1="481.9" x2="713.9" y2="481.9" stroke="#3c3c3c" stroke-width="0.95" />
<text x="773.9" y="472.6" font-size="12.5" font-weight="bold" fill="#3A7BD5" text-anchor="middle" font-style="normal">O</text>
<line x1="765.7" y1="453.5" x2="771.1" y2="462.5" stroke="#3c3c3c" stroke-width="1.0" />
<line x1="779.1" y1="467.6" x2="791.6" y2="467.6" stroke="#3c3c3c" stroke-width="1.0" />
<polygon points="791.6,467.6 800.4,452.0 819.0,452.0 827.5,467.6 819.0,483.6 800.4,483.6" fill="none" stroke="#3c3c3c" stroke-width="1.0" stroke-linejoin="round"/>
<line x1="795.0" y1="466.9" x2="801.5" y2="455.3" stroke="#3c3c3c" stroke-width="0.95" />
<line x1="817.9" y1="455.3" x2="824.2" y2="466.9" stroke="#3c3c3c" stroke-width="0.95" />
<line x1="816.6" y1="481.0" x2="802.8" y2="481.0" stroke="#3c3c3c" stroke-width="0.95" />
<polygon points="891.0,452.8 905.3,461.2 905.3,478.1 891.0,486.5 876.7,478.1 876.7,461.2" fill="none" stroke="#3c3c3c" stroke-width="1.15" stroke-linejoin="round"/>
<line x1="891.6" y1="456.2" x2="902.2" y2="462.4" stroke="#3c3c3c" stroke-width="1.05" />
<line x1="902.2" y1="476.9" x2="891.6" y2="483.1" stroke="#3c3c3c" stroke-width="1.05" />
<line x1="879.3" y1="475.9" x2="879.3" y2="463.4" stroke="#3c3c3c" stroke-width="1.05" />
<line x1="876.7" y1="461.2" x2="861.8" y2="452.8" stroke="#3c3c3c" stroke-width="1.15" />
<line x1="905.3" y1="461.2" x2="919.3" y2="453.4" stroke="#3c3c3c" stroke-width="1.15" />
<text x="964.0" y="458.4" font-size="13.5" font-weight="bold" fill="#111" text-anchor="middle" font-style="normal">H</text>
<text x="972.6" y="461.0" font-size="8.5" font-weight="bold" fill="#111" text-anchor="middle" font-style="normal">2</text>
<text x="964.4" y="473.8" font-size="13.5" font-weight="bold" fill="#111" text-anchor="middle" font-style="normal">C</text>
<line x1="946.0" y1="479.5" x2="956.4" y2="473.6" stroke="#111" stroke-width="1.15" />
<line x1="972.4" y1="473.6" x2="983.0" y2="479.5" stroke="#111" stroke-width="1.15" />
<text x="1035.4" y="457.6" font-size="11.8" font-weight="bold" fill="#111">CH<tspan font-size="8.0" dy="3.0">3</tspan></text>
<text x="1035.4" y="495.7" font-size="11.8" font-weight="bold" fill="#111">CH<tspan font-size="8.0" dy="3.0">3</tspan></text>
<text x="1039.4" y="475.8" font-size="11.8" font-weight="bold" fill="#111" text-anchor="middle" font-style="normal">C</text>
<line x1="1019.8" y1="471.6" x2="1034.0" y2="471.6" stroke="#111" stroke-width="1.1" />
<line x1="1045.6" y1="471.6" x2="1060.2" y2="471.6" stroke="#111" stroke-width="1.1" />
<line x1="1039.4" y1="459.8" x2="1039.4" y2="464.6" stroke="#111" stroke-width="1.1" />
<line x1="1039.4" y1="478.6" x2="1039.4" y2="483.4" stroke="#111" stroke-width="1.1" />
<polygon points="1119.2,464.9 1134.0,473.3 1134.0,489.3 1119.2,497.7 1104.6,489.3 1104.6,473.3" fill="none" stroke="#3c3c3c" stroke-width="1.15" stroke-linejoin="round"/>
<line x1="1119.8" y1="468.2" x2="1130.7" y2="474.4" stroke="#3c3c3c" stroke-width="1.05" />
<line x1="1130.7" y1="488.2" x2="1119.8" y2="494.4" stroke="#3c3c3c" stroke-width="1.05" />
<line x1="1107.2" y1="487.2" x2="1107.2" y2="475.4" stroke="#3c3c3c" stroke-width="1.05" />
<line x1="1104.6" y1="473.3" x2="1088.6" y2="464.6" stroke="#3c3c3c" stroke-width="1.15" />
<line x1="1134.0" y1="473.3" x2="1149.5" y2="464.6" stroke="#3c3c3c" stroke-width="1.15" />
<line x1="1119.2" y1="464.9" x2="1119.2" y2="454.2" stroke="#3c3c3c" stroke-width="1.15" />
<text x="1115.3" y="452.7" font-size="10.8" font-weight="bold" fill="#111">CH<tspan font-size="7.3" dy="2.7">3</tspan></text>
<polygon points="1200.2,450.4 1217.4,460.2 1217.4,479.4 1200.2,488.8 1183.5,479.4 1183.5,460.2" fill="none" stroke="#3c3c3c" stroke-width="1.15" stroke-linejoin="round"/>
<rect x="0.00" y="745.90" width="1216.00" height="2.20" fill="#000" />
</svg></body></html>
